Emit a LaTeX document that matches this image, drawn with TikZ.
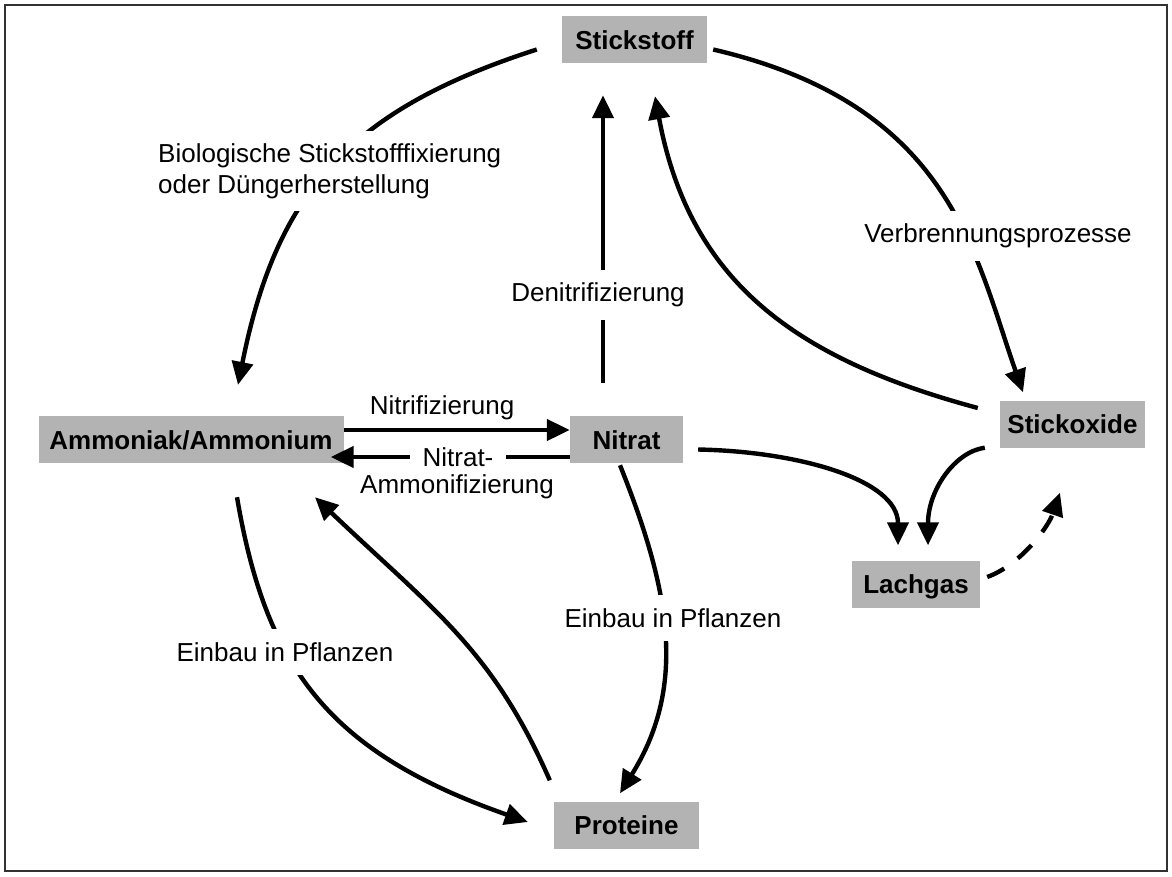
\documentclass[tikz,border=0pt]{standalone}
\usepackage{fontspec}
\setmainfont{Liberation Sans}
\usepackage{tikz}
\usetikzlibrary{arrows.meta,calc}
\definecolor{BoxGray}{RGB}{179,179,179}
\definecolor{FrameGray}{RGB}{50,50,50}

\begin{document}
\begin{tikzpicture}[x=1pt,y=-1pt,
		box/.style={fill=BoxGray,font=\bfseries\fontsize{26}{31}\selectfont,minimum height=47pt,inner sep=0pt,text height=19pt,text depth=0pt},
		txt/.style={font=\fontsize{26}{31}\selectfont,inner sep=0pt},
		gap/.style={txt,fill=white,inner xsep=6pt,inner ysep=13pt},
		flow/.style={line width=4.4pt,-{Triangle[length=23pt,width=21pt]}}]
			\useasboundingbox (0,0) rectangle (1172,876);
			\draw[line width=2pt,FrameGray] (5,5) rectangle (1167,871);
			\node[box,minimum width=145pt] (stick) at (634.5,39.5) {Stickstoff};
			\node[box,minimum width=305pt] (ammon) at (191,439.5) {Ammoniak/Ammonium};
			\node[box,minimum width=113pt] (nitrat) at (626.5,439.5) {Nitrat};
			\node[box,minimum width=145pt] (sox) at (1072.5,424) {Stickoxide};
			\node[box,minimum width=128pt] (lach) at (916,584) {Lachgas};
			\node[box,minimum width=145pt] (prot) at (626.5,825) {Proteine};
			\draw[flow] ($(stick.west)+(-25,10)$) .. controls +(-190,61) and +(38,-190) .. ($(ammon.north)+(47,-31)$);
			\draw[flow] ($(stick.east)+(6,10)$) .. controls +(237,55) and +(-49,-140) .. ($(sox.north)+(-49.5,-8)$);
			\draw[flow] ($(nitrat.north)+(-23.5,-33)$) -- ($(stick.south)+(-31.5,32)$);
			\draw[flow] ($(sox.west)+(-22,-16)$) .. controls +(-178,-48) and +(35,189) .. ($(stick.south)+(20.5,33)$);
			\draw[flow] ($(nitrat.east)+(15,10)$) .. controls +(102,2) and +(0,-65) .. ($(lach.north)+(-18,-15)$);
			\draw[flow] ($(sox.south west)+(-15,0)$) .. controls +(-30,4) and +(0,-55) .. ($(lach.north)+(12,-15)$);
			\draw[flow,dash pattern=on 19pt off 17pt] ($(lach.east)+(7,-7)$) .. controls +(33,-12) and +(-12,35) .. ($(sox.south)+(-12.5,45)$);
			\draw[flow] ($(ammon.south)+(46,34)$) .. controls +(29,170) and +(-200,-70) .. ($(prot.west)+(-26,-3)$);
			\draw[flow] ($(prot.north west)+(-4,-21)$) .. controls +(-57,-130) and +(120,114) .. ($(ammon.south)+(124,34)$);
			\draw[flow] ($(nitrat.south)+(-6.5,2)$) .. controls +(48,120) and +(69,-110) .. ($(prot.north)+(-6.5,-8)$);
			\draw[flow] ($(ammon.east)+(0,-9.5)$) -- ($(nitrat.west)+(0,-9.5)$);
			\draw[flow] ($(nitrat.west)+(0,17.5)$) -- ($(ammon.east)+(-13,17.5)$);
			\node[gap,anchor=west,align=left,inner ysep=12pt] (lblbio) at (152,171) {Biologische Stickstofffixierung\\oder Düngerherstellung};
			\node[gap] (lblverbr) at (998,236) {Verbrennungsprozesse};
			\node[gap] (lbldenitr) at (598,295) {Denitrifizierung};
			\node[txt] (lblnitri) at (442,408) {Nitrifizierung};
			\node[gap,inner xsep=13pt,inner ysep=4pt] (lblnitrat) at (458,457) {Nitrat-};
			\node[txt] (lblammonif) at (457,487) {Ammonifizierung};
			\node[gap] (lbleinbauA) at (285,652) {Einbau in Pflanzen};
			\node[gap] (lbleinbauB) at (673,618) {Einbau in Pflanzen};
		\end{tikzpicture}
\end{document}
